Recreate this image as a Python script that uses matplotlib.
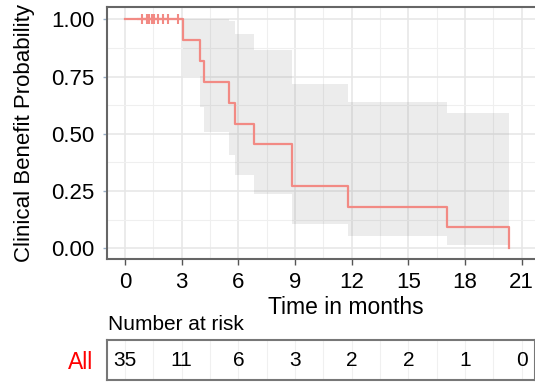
import matplotlib
matplotlib.use("Agg")
import matplotlib.pyplot as plt
import numpy as np

plt.rcParams['font.family'] = ['Liberation Sans', 'DejaVu Sans']

# Kaplan-Meier steps
event_t = [3.05, 3.97, 4.20, 5.52, 5.82, 6.83, 8.86, 11.82, 17.06, 20.34]
surv = [0.909, 0.818, 0.727, 0.636, 0.545, 0.455, 0.273, 0.182, 0.091, 0.0]
ci_low = [0.754, 0.619, 0.506, 0.407, 0.318, 0.238, 0.104, 0.052, 0.014]
ci_up = [1.0, 1.0, 1.0, 0.995, 0.935, 0.868, 0.716, 0.637, 0.589]
censor_t = [0.88, 1.18, 1.29, 1.41, 1.54, 1.76, 2.03, 2.29, 2.79]

risk_t = [0, 3, 6, 9, 12, 15, 18, 21]
risk_n = [35, 11, 6, 3, 2, 2, 1, 0]

W, H = 535, 383
fig = plt.figure(figsize=(W / 100, H / 100), dpi=100)
ax = fig.add_axes([107 / W, 1 - 259 / H, 1 - 107 / W, (259 - 7) / H])

col = '#F28A84'
ax.fill_between(event_t, ci_low + [ci_low[-1]], ci_up + [ci_up[-1]], step='post',
                color='grey', alpha=0.15, linewidth=0, zorder=2)
ax.step([0] + event_t, [1.0] + surv, where='post', color=col, lw=1.6, zorder=3)
ax.plot(censor_t, [1.0] * len(censor_t), '+', color=col, ms=7, mew=1.5, zorder=3)

ax.set_xlim(-0.953, 21.7)
ax.set_ylim(-0.047, 1.054)
ax.set_xticks(risk_t)
ax.set_xticks(np.arange(1.5, 21.5, 3), minor=True)
ax.set_yticks([0, 0.25, 0.5, 0.75, 1.0])
ax.set_yticklabels(['0.00', '0.25', '0.50', '0.75', '1.00'])
ax.set_yticks([0.125, 0.375, 0.625, 0.875], minor=True)
ax.grid(which='major', color='#e6e6e6', lw=1.1, zorder=0)
ax.grid(which='minor', color='#efefef', lw=0.8, zorder=0)
ax.set_axisbelow(True)
ax.tick_params(axis='x', which='major', length=4, width=1, color='#555555', labelsize=16, pad=5)
ax.tick_params(axis='y', which='major', length=3, width=1, color='#9ab0c8', labelsize=16, pad=6)
ax.tick_params(which='minor', length=0)
for s in ['left', 'bottom', 'top']:
    ax.spines[s].set_color('#666666')
    ax.spines[s].set_linewidth(1.5)
ax.spines['right'].set_visible(False)

fig.text(25 / W, 1 - 133 / H, 'Clinical Benefit Probability', rotation=90,
         ha='center', va='center', fontsize=16)
fig.text(346 / W, 1 - 314 / H, 'Time in months', ha='center', va='baseline', fontsize=16.5)
fig.text(108 / W, 1 - 330 / H, 'Number at risk', ha='left', va='baseline', fontsize=15)

# risk table
tb = fig.add_axes([107 / W, 1 - 380 / H, 1 - 107 / W, 40 / H])
tb.set_xlim(ax.get_xlim())
tb.set_ylim(0, 1)
for t, n in zip(risk_t, risk_n):
    tb.text(t, 0.5, str(n), ha='center', va='center', fontsize=15)
tb.set_xticks(risk_t)
tb.set_xticks(np.arange(1.5, 21.5, 3), minor=True)
tb.grid(axis='x', which='both', color='#f0f0f0', lw=0.8)
tb.tick_params(axis='x', which='both', length=0, labelbottom=False)
tb.set_yticks([0.5])
tb.set_yticklabels(['All'], color='red', fontsize=16.5)
tb.tick_params(axis='y', length=0, pad=10)
for s in tb.spines.values():
    s.set_color('#777777')
    s.set_linewidth(1.5)

fig.savefig('out.png', dpi=100)
